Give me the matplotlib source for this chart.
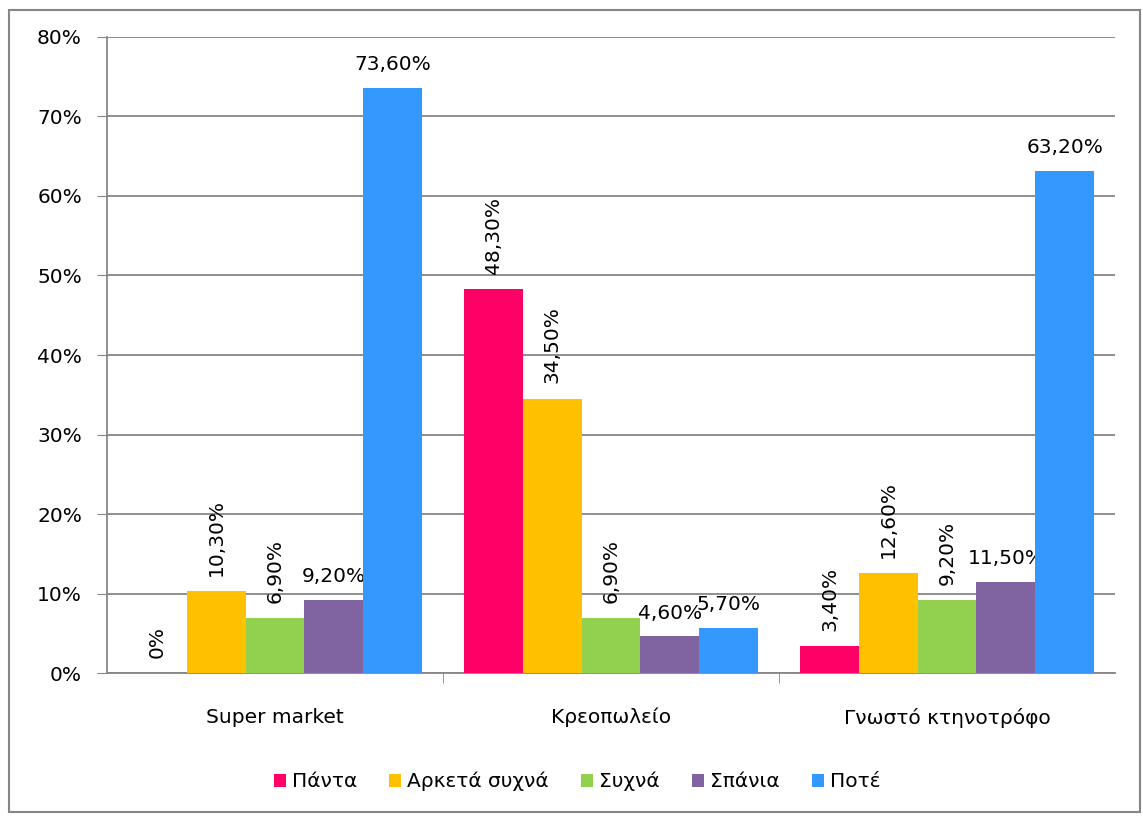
import matplotlib
matplotlib.use('Agg')
import matplotlib.pyplot as plt
from matplotlib.patches import Rectangle
import numpy as np

categories = ['Super market', 'Κρεοπωλείο', 'Γνωστό κτηνοτρόφο']
series = ['Πάντα', 'Αρκετά συχνά', 'Συχνά', 'Σπάνια', 'Ποτέ']
colors = ['#FF0066', '#FFC000', '#92D050', '#8064A2', '#3399FF']
values = [
    [0.0, 48.3, 3.4],     # Πάντα
    [10.3, 34.5, 12.6],   # Αρκετά συχνά
    [6.9, 6.9, 9.2],      # Συχνά
    [9.2, 4.6, 11.5],     # Σπάνια
    [73.6, 5.7, 63.2],    # Ποτέ
]
# which series get sideways labels
vertical = [True, True, True, False, False]

fs = 14.5
plt.rcParams['font.family'] = ['DejaVu Sans']
fig = plt.figure(figsize=(11.43, 8.16), dpi=100)
ax = fig.add_axes([0.0936, 0.1752, 0.882, 0.7795])

bw = 0.175
x = np.arange(len(categories))
for i, (name, vals, c) in enumerate(zip(series, values, colors)):
    xs = x - 2 * bw + i * bw
    ax.bar(xs, vals, width=bw, color=c, label=name, zorder=3)
    for xi, v in zip(xs, vals):
        txt = ('%.2f%%' % v).replace('.', ',') if v > 0 else '0%'
        if vertical[i]:
            ax.annotate(txt, (xi, v), xytext=(0, 11), textcoords='offset points',
                        rotation=90, ha='center', va='bottom', fontsize=fs)
        else:
            ax.annotate(txt, (xi, v), xytext=(0, 10), textcoords='offset points',
                        ha='center', va='bottom', fontsize=fs)

ax.set_xlim(-0.5, 2.5)
ax.set_ylim(0, 80)
ax.set_yticks(range(0, 81, 10))
ax.set_yticklabels(['%d%%' % t for t in range(0, 81, 10)], fontsize=fs)
ax.set_xticks(x)
ax.set_xticklabels(categories, fontsize=fs)
ax.tick_params(axis='x', length=0, pad=25)
ax.tick_params(axis='y', length=7, color='#868686', pad=11)
ax.set_xticks([0.5, 1.5], minor=True)
ax.tick_params(axis='x', which='minor', length=7, color='#868686')
ax.grid(axis='y', color='#868686', lw=1.3, zorder=0)
for s in ['top', 'right']:
    ax.spines[s].set_visible(False)
for s in ['left', 'bottom']:
    ax.spines[s].set_color('#868686')
    ax.spines[s].set_linewidth(1.3)

ax.legend(loc='center', bbox_to_anchor=(0.505, 0.042), bbox_transform=fig.transFigure,
          ncol=5, frameon=False, fontsize=fs, handlelength=0.6, handleheight=0.6,
          handletextpad=0.3, columnspacing=1.6)

fig.patches.append(Rectangle((0.008, 0.005), 0.989, 0.983, transform=fig.transFigure,
                             fill=False, edgecolor='#868686', lw=1.5))
fig.savefig('out.png', dpi=100)
